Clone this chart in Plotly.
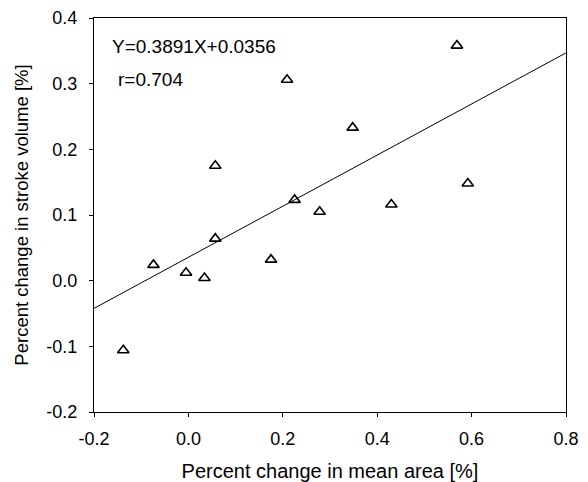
import numpy as np
import plotly.graph_objects as go

# Observations: percent change in mean area vs percent change in stroke volume
area_change = [-0.138, -0.074, -0.005, 0.034, 0.057, 0.057, 0.175,
               0.209, 0.225, 0.278, 0.348, 0.430, 0.569, 0.592]
sv_change = [-0.106, 0.024, 0.012, 0.004, 0.064, 0.175, 0.032,
             0.306, 0.123, 0.105, 0.233, 0.116, 0.358, 0.148]

# Linear fit reported on the chart
slope = 0.3891
intercept = 0.0356
r_value = 0.704

x_range = [-0.2, 0.8]
y_range = [-0.2, 0.4]
x_ticks = [-0.2, 0.0, 0.2, 0.4, 0.6, 0.8]
y_ticks = [-0.2, -0.1, 0.0, 0.1, 0.2, 0.3, 0.4]

FONT = "Liberation Sans, Arial, sans-serif"

fit_x = np.array(x_range)
fit_y = slope * fit_x + intercept

fig = go.Figure()
fig.add_trace(go.Scatter(
    x=fit_x, y=fit_y, mode="lines",
    line=dict(color="black", width=1),
    showlegend=False, hoverinfo="skip",
))
fig.add_trace(go.Scatter(
    x=area_change, y=sv_change, mode="markers",
    marker=dict(symbol="triangle-up-open", size=10, color="black",
                line=dict(color="black", width=1.6)),
    showlegend=False,
))

fig.add_annotation(
    x=-0.166, y=0.3565, xref="x", yref="y", xanchor="left", yanchor="middle",
    text=f"Y={slope:.4f}X+{intercept:.4f}", showarrow=False,
    font=dict(family=FONT, size=19, color="black"),
)
fig.add_annotation(
    x=-0.154, y=0.306, xref="x", yref="y", xanchor="left", yanchor="middle",
    text=f"r={r_value:.3f}", showarrow=False,
    font=dict(family=FONT, size=19, color="black"),
)

axis_common = dict(
    showgrid=False, zeroline=False, showline=True, linecolor="black",
    linewidth=1, mirror=True, ticks="outside", ticklen=4, tickwidth=1,
    tickcolor="black", tickfont=dict(family=FONT, size=18, color="black"),
    automargin=False,
)

fig.update_xaxes(
    range=x_range, tickvals=x_ticks,
    ticktext=[f"{v:.1f}" for v in x_ticks],
    ticklabelstandoff=6,
    title=dict(text="Percent change in mean area [%]",
               font=dict(family=FONT, size=20, color="black"), standoff=17),
    **axis_common,
)
fig.update_yaxes(
    range=y_range, tickvals=y_ticks,
    ticktext=[f"{v:.1f}" for v in y_ticks],
    ticklabelstandoff=8,
    title=dict(text="Percent change in stroke volume [%]",
               font=dict(family=FONT, size=18.5, color="black"), standoff=12),
    **axis_common,
)

fig.update_layout(
    width=588, height=482,
    margin=dict(l=94, r=22, t=18, b=70),
    plot_bgcolor="white", paper_bgcolor="white",
    font=dict(family=FONT, color="black"),
)

fig.write_html("out.html")
